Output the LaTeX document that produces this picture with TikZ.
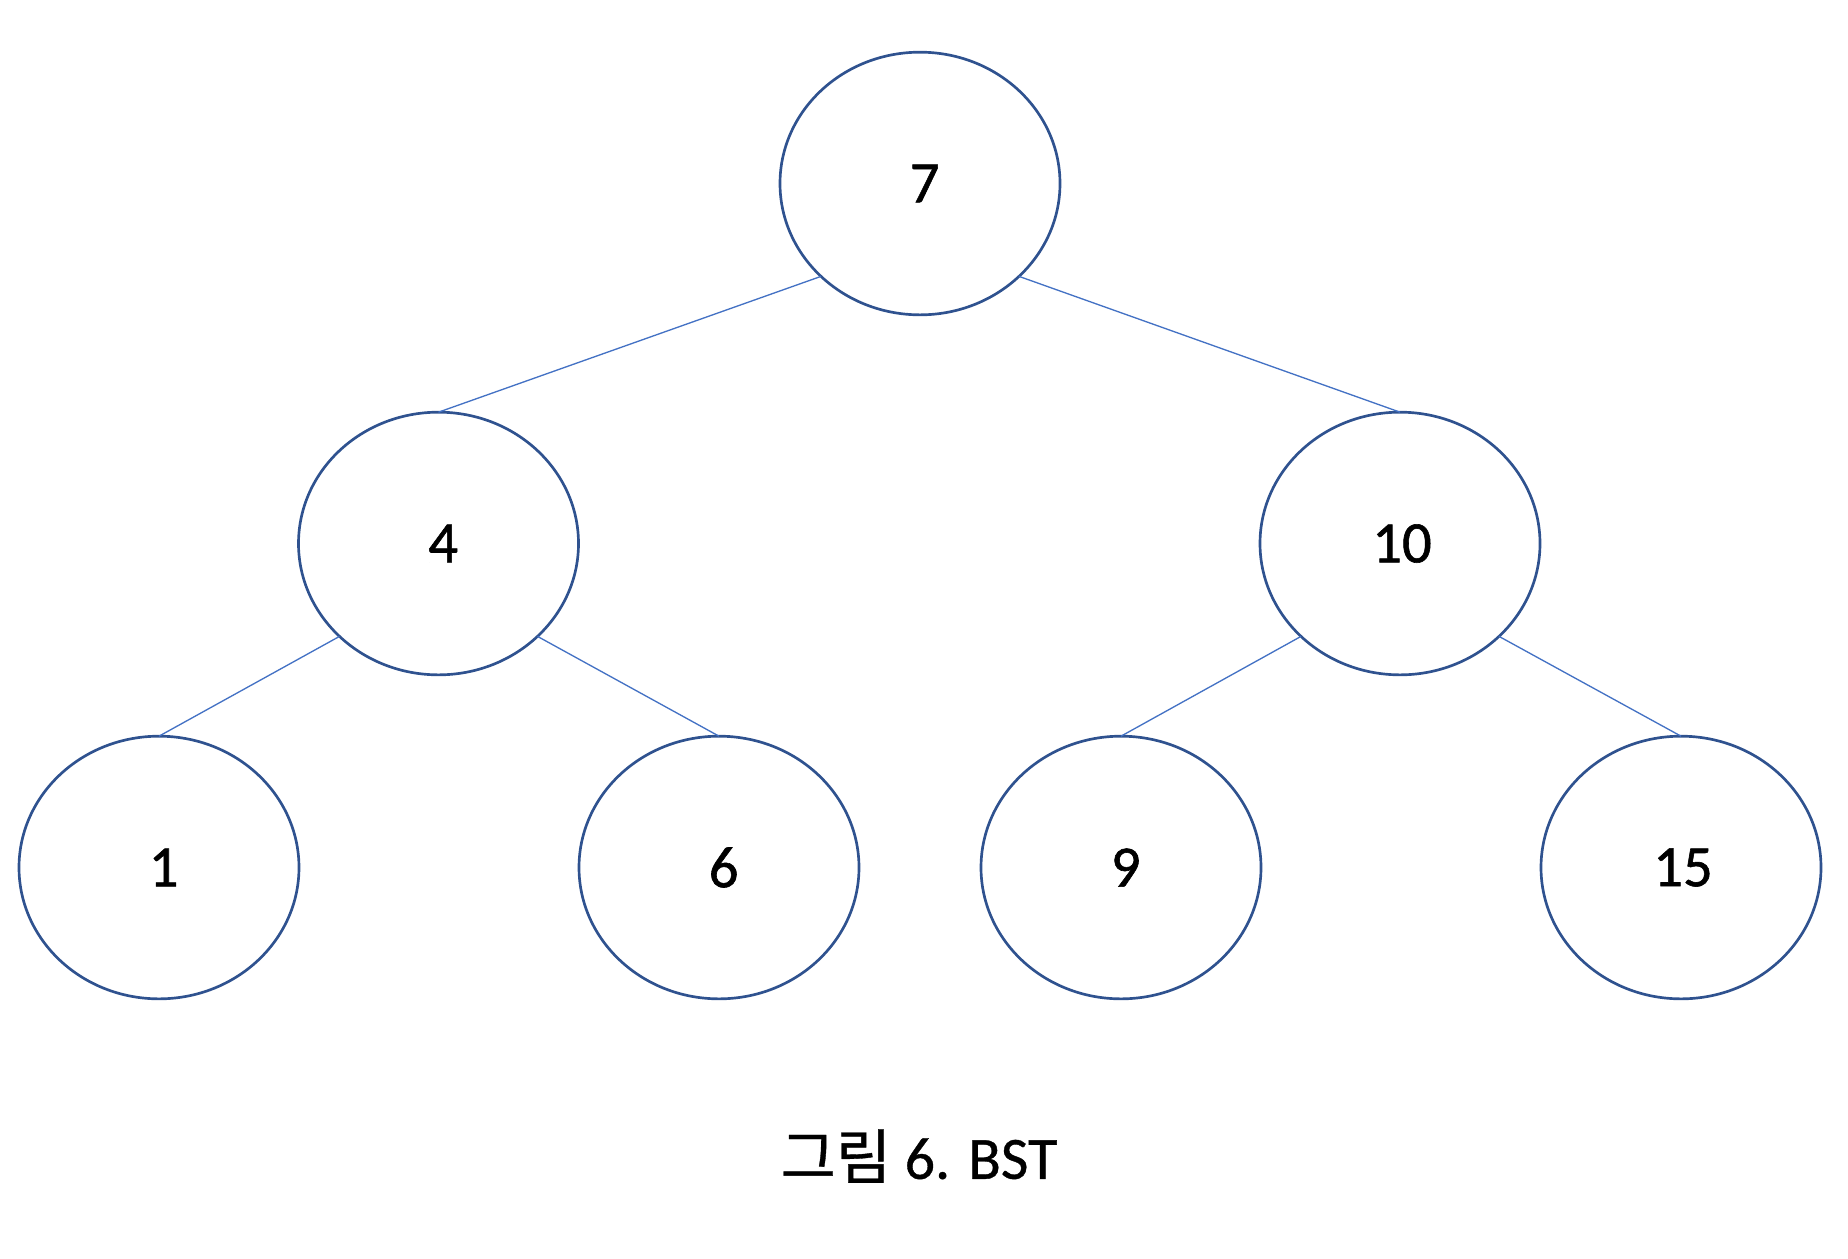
\documentclass[tikz,border=0pt]{standalone}
\usepackage{fontspec}
\setmainfont{Carlito}[FakeBold=0.6]
\newfontfamily\digits{Carlito}[FakeBold=1.0]
\newfontfamily\kr{Noto Sans CJK KR}[FakeBold=0.6]
\usetikzlibrary{shapes.geometric}
\definecolor{nodeline}{HTML}{2F528F}
\definecolor{edgeline}{HTML}{4472C4}
\begin{document}
\begin{tikzpicture}[x=0.75pt,y=-0.75pt,
  treenode/.style={ellipse, draw=nodeline, line width=2pt, fill=white,
    minimum width=210pt, minimum height=197pt, inner sep=0pt, outer sep=0pt,
    font=\fontsize{44}{50}\digits},
  treeedge/.style={draw=edgeline, line width=1pt}]
  \useasboundingbox (0,0) rectangle (1848,1258);

  % tree nodes (a small kern keeps the digits just right of centre)
  \node[treenode] (n7)  at (920,183.5)   {\kern7pt 7};
  \node[treenode] (n4)  at (438.5,543.5) {\kern7pt 4};
  \node[treenode] (n10) at (1400,543.5)  {\kern3pt 10};
  \node[treenode] (n1)  at (159,867.5)   {\kern7pt 1};
  \node[treenode] (n6)  at (719,867.5)   {\kern7pt 6};
  \node[treenode] (n9)  at (1121,867.5)  {\kern7pt 9};
  \node[treenode] (n15) at (1681,867.5)  {\kern3pt 15};

  % parent-child links
  \draw[treeedge] (n7.south west) -- (n4.north);
  \draw[treeedge] (n7.south east) -- (n10.north);
  \draw[treeedge] (n4.south west) -- (n1.north);
  \draw[treeedge] (n4.south east) -- (n6.north);
  \draw[treeedge] (n10.south west) -- (n9.north);
  \draw[treeedge] (n10.south east) -- (n15.north);

  % caption
  \node[font=\fontsize{45}{50}\selectfont, inner sep=0pt] (caption) at (919,1156)
    {{\kr 그림} 6. BST};
\end{tikzpicture}
\end{document}
